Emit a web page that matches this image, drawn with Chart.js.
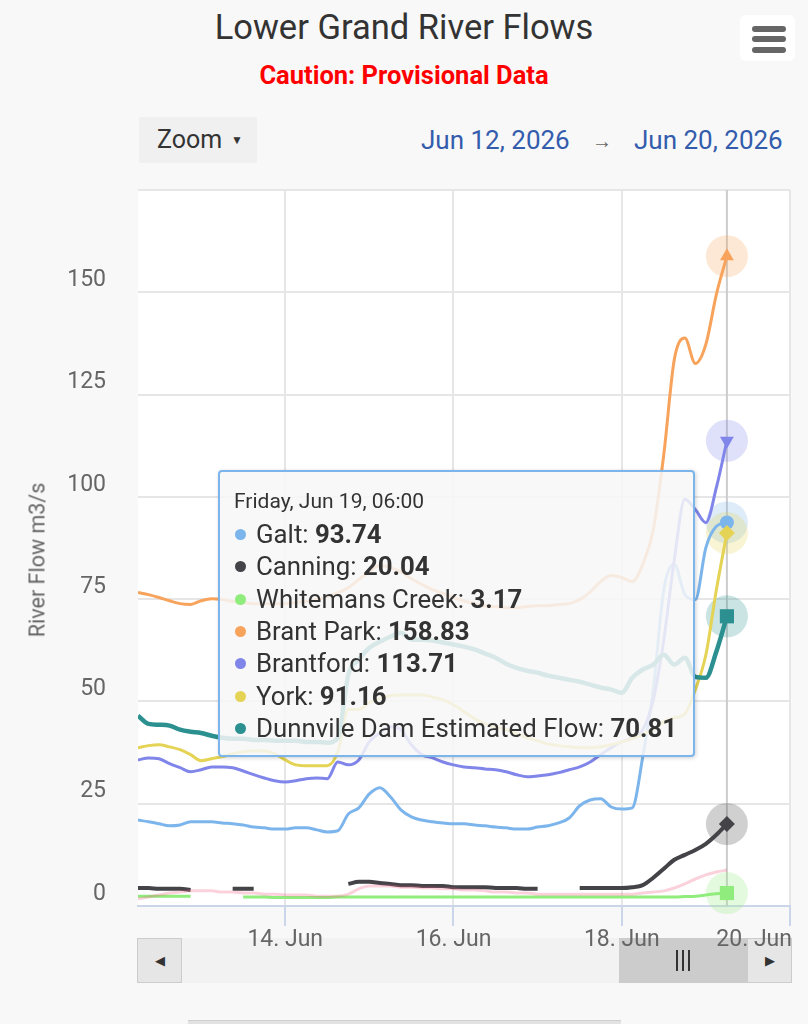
<!DOCTYPE html>
<html lang="en">
<head>
<meta charset="UTF-8">
<meta name="viewport" content="width=device-width, initial-scale=1.0">
<title>Lower Grand River Flows</title>
<style>
  body { margin: 0; background: #f8f8f8; font-family: Roboto, "Noto Sans", sans-serif; }
  #wrap { position: relative; width: 808px; height: 1024px; overflow: hidden; }
  #chart { position: absolute; left: 0; top: 0; z-index: 2; }
  .abs { position: absolute; white-space: nowrap; }
  .title { left: 0; width: 808px; text-align: center; top: 7px; line-height: 40px; font-size: 34.5px; color: #333; }
  .subtitle { left: 0; width: 808px; text-align: center; top: 60px; line-height: 30px; font-size: 25.5px; font-weight: bold; color: #ff0000; }
  .zoomBtn { left: 139px; top: 117px; width: 118px; height: 46px; background: #f0f0f0; border-radius: 2px; }
  .zoomBtn span { position: absolute; left: 18px; top: 0; line-height: 46px; font-size: 25px; color: #333; }
  .zoomBtn i { position: absolute; left: 92px; top: 0; line-height: 46px; font-size: 12px; font-style: normal; color: #333; }
  .date { top: 122px; line-height: 36px; font-size: 26px; color: #335cad; }
  .arrow { top: 123px; line-height: 36px; font-size: 20px; color: #666; left: 592px; }
  .menu { left: 740px; top: 15px; width: 55px; height: 46px; background: #fff; border-radius: 6px; }
  .menu b { position: absolute; left: 12px; width: 34px; height: 6px; border-radius: 3px; background: #666; }
  .ytitle { left: 37px; top: 560px; transform: translate(-50%, -50%) rotate(-90deg); font-size: 21.5px; color: #666; z-index: 3; }
  .track { left: 138px; top: 938px; width: 652px; height: 45px; background: #f2f2f2; z-index: 1; }
  .btn { top: 938px; width: 43px; height: 43px; background: #e6e6e6; border: 1px solid #cccccc; z-index: 1; text-align: center; line-height: 43px; font-size: 13px; color: #333; }
  .thumb { left: 619px; top: 938px; width: 128px; height: 45px; background: #cccccc; z-index: 1; }
  .thumb b { position: absolute; top: 12px; width: 2px; height: 21px; background: #333; }
  .navbar { left: 188px; top: 1020px; width: 433px; height: 4px; background: #e2e2e2; border-top: 1px solid #cfcfcf; }
  #tip { left: 218px; top: 470px; width: 473px; height: 283px; border: 2px solid #7cb5ec; border-radius: 4px;
         background: rgba(247,247,247,0.85); box-shadow: 1px 1px 4px rgba(0,0,0,0.18); z-index: 3; color: #333; }
  #tip .head { position: absolute; left: 14px; top: 15px; line-height: 28px; font-size: 21px; }
  #tip .row { position: absolute; left: 15px; line-height: 32px; font-size: 25.8px; }
  #tip .dot { display: inline-block; width: 11px; height: 11px; border-radius: 50%; margin-right: 10px; vertical-align: 3px; }
</style>
</head>
<body>
<div id="wrap">
  <div class="abs title">Lower Grand River Flows</div>
  <div class="abs subtitle">Caution: Provisional Data</div>
  <div class="abs zoomBtn"><span>Zoom</span><i>▼</i></div>
  <div class="abs date" style="left:421px">Jun 12, 2026</div>
  <div class="abs arrow">→</div>
  <div class="abs date" style="left:634px">Jun 20, 2026</div>
  <div class="abs menu"><b style="top:11px"></b><b style="top:21px"></b><b style="top:32px"></b></div>
  <div class="abs ytitle">River Flow m3/s</div>

  <div class="abs track"></div>
  <div class="abs btn" style="left:137px">◀</div>
  <div class="abs thumb"><b style="left:57px"></b><b style="left:63px"></b><b style="left:69px"></b></div>
  <div class="abs btn" style="left:747px">▶</div>
  <div class="abs navbar"></div>

  <canvas id="chart" width="808" height="1024"></canvas>
  <div class="abs" id="tip"></div>
</div>

<script src="https://cdn.jsdelivr.net/npm/chart.js"></script>
<script>
  // hours after Jun 12 00:00 (3-hourly readings)
  const hours = [6, 9, 12, 15, 18, 21, 24, 27, 30, 33, 36, 39, 42, 45, 48, 51, 54, 57, 60, 63,
    66, 69, 72, 75, 78, 81, 84, 87, 90, 93, 96, 99, 102, 105, 108, 111, 114, 117, 120, 123,
    126, 129, 132, 135, 138, 141, 144, 147, 150, 153, 156, 159, 162, 165, 168, 171, 174];

  const xTicks = [48, 96, 144, 192];
  const tooltipTime = 'Friday, Jun 19, 06:00';

  const galt = [21.0, 20.6, 20.1, 19.6, 19.8, 20.6, 20.6, 20.6, 20.3, 20.1, 19.8, 19.3, 19.1, 18.8, 18.8, 19.1, 19.1, 18.6, 18.1, 18.4,
    22.5, 24.0, 27.4, 28.9, 26.7, 23.5, 21.8, 21.0, 20.6, 20.3, 20.1, 20.1, 19.8, 19.6, 19.3, 19.1, 18.8, 18.8, 19.3, 19.6,
    20.3, 21.5, 24.5, 25.9, 26.2, 24.2, 23.7, 24.0, 36.5, 52.9, 77.3, 83.5, 76.1, 74.9, 87.6, 92.8, 93.74];

  const canning = [4.4, 4.4, 4.2, 4.2, 4.2, 3.9, null, null, null, 4.2, 4.2, 4.2, null, null, null, null, null, null, null, null,
    5.4, 5.9, 5.9, 5.6, 5.4, 5.1, 5.1, 4.9, 4.9, 4.9, 4.6, 4.6, 4.6, 4.6, 4.4, 4.4, 4.4, 4.2, 4.2, null,
    null, null, 4.4, 4.4, 4.4, 4.4, 4.4, 4.6, 5.1, 6.9, 9.1, 11.3, 12.5, 13.7, 15.2, 17.4, 20.04];

  const whitemans = [2.4, 2.4, 2.4, 2.4, 2.4, 2.4, null, null, null, null, 2.2, 2.2, 2.2, 2.1, 2.1, 2.1, 2.1, 2.1, 2.1, 2.2,
    2.2, 2.2, 2.2, 2.2, 2.2, 2.2, 2.2, 2.2, 2.2, 2.2, 2.2, 2.2, 2.2, 2.2, 2.2, 2.2, 2.2, 2.2, 2.2, 2.2,
    2.2, 2.2, 2.2, 2.2, 2.2, 2.2, 2.2, 2.2, 2.2, 2.2, 2.2, 2.2, 2.3, 2.4, 2.7, 3.0, 3.17];

  const brantPark = [76.6, 76.1, 75.4, 74.6, 73.9, 73.7, 74.6, 75.1, 74.9, 74.4, 74.2, 73.9, 73.9, 73.9, 73.9, 74.2, 74.4, 74.9, 75.6, 76.6,
    77.8, 79.8, 81.7, 83.2, 82.7, 81.7, 80.0, 78.6, 77.3, 76.4, 75.4, 74.6, 73.9, 73.4, 73.2, 72.9, 72.9, 73.2, 73.4, 73.4,
    73.7, 73.9, 74.9, 76.8, 79.3, 80.8, 80.3, 79.3, 83.5, 92.0, 110.4, 133.6, 138.8, 132.6, 137.3, 149.5, 158.83];

  const brantford = [35.7, 36.2, 36.0, 34.8, 33.8, 32.8, 33.3, 34.0, 34.0, 33.8, 33.0, 32.1, 31.3, 30.6, 30.3, 30.6, 31.1, 31.3, 31.1, 35.2,
    34.5, 35.7, 40.1, 42.3, 43.8, 43.1, 39.4, 37.0, 36.2, 35.2, 34.5, 34.0, 33.8, 33.5, 33.3, 32.8, 32.1, 31.6, 31.8, 32.1,
    32.6, 33.3, 34.0, 35.2, 37.0, 38.7, 40.1, 41.1, 43.1, 50.4, 65.1, 84.7, 99.4, 96.9, 93.7, 102.3, 113.71];

  const faintSeries = [1.7, 2.2, 2.7, 3.2, 3.4, 3.7, 3.7, 3.7, 3.4, 3.4, 3.2, 3.2, 2.9, 2.9, 2.7, 2.7, 2.7, 2.4, 2.4, 2.4,
    2.9, 4.2, 4.9, 4.9, 4.9, 4.6, 4.6, 4.4, 4.4, 4.2, 4.2, 3.9, 3.9, 3.7, 3.4, 3.4, 3.2, 3.2, 2.9, 2.9,
    2.9, 2.9, 2.9, 2.9, 2.9, 2.9, 2.9, 2.9, 3.2, 3.4, 3.7, 4.4, 5.4, 6.6, 7.6, 8.3, 8.8];

  const york = [38.7, 39.2, 39.4, 38.9, 38.2, 37.0, 35.5, 36.0, 36.5, 37.2, 37.7, 37.9, 37.9, 37.2, 35.7, 34.5, 34.3, 34.3, 34.3, 37.7,
    48.0, 48.0, 49.7, 50.7, 51.4, 51.6, 51.6, 51.6, 51.1, 50.4, 49.2, 47.5, 45.8, 44.5, 43.8, 43.1, 42.1, 41.1, 40.4, 39.6,
    39.2, 38.9, 38.7, 38.7, 38.9, 39.4, 40.1, 40.9, 41.9, 43.1, 45.0, 46.0, 47.0, 52.9, 61.4, 77.3, 91.16];

  const dunnville = [46.5, 44.5, 44.3, 44.1, 43.1, 42.6, 42.3, 41.6, 41.1, 40.9, 40.9, 40.6, 40.6, 40.4, 40.4, 40.4, 40.1, 40.1, 39.9, 41.1,
    56.5, 60.2, 63.1, 64.6, 65.8, 66.8, 65.1, 65.1, 64.9, 64.4, 63.9, 63.4, 62.7, 61.7, 60.7, 59.2, 58.2, 57.5, 57.0, 56.3,
    55.8, 55.3, 54.8, 54.1, 53.4, 52.9, 52.1, 55.8, 57.8, 59.0, 61.4, 59.0, 60.7, 56.0, 55.8, 62.2, 70.81];

  const series = [
    { name: 'Galt', data: galt, color: '#7cb5ec', marker: 'circle', width: 3 },
    { name: 'Canning', data: canning, color: '#434348', marker: 'rectRot', width: 4 },
    { name: 'Whitemans Creek', data: whitemans, color: '#90ed7d', marker: 'rect', width: 3 },
    { name: 'Brant Park', data: brantPark, color: '#f7a35c', marker: 'triangle', width: 3 },
    { name: 'Brantford', data: brantford, color: '#8085e9', marker: 'triangle', rot: 180, width: 3 },
    { name: '', data: faintSeries, color: 'rgba(241,92,128,0.28)', marker: null, width: 3 },
    { name: 'York', data: york, color: '#e4d354', marker: 'rectRot', width: 3 },
    { name: 'Dunnvile Dam Estimated Flow', data: dunnville, color: '#2b908f', marker: 'rect', width: 4.5 }
  ];

  const last = hours.length - 1;
  const markerSize = { circle: 7, rectRot: 8, rect: 10, triangle: 8 };

  const datasets = series.map((s, i) => ({
    label: s.name,
    data: hours.map((h, j) => ({ x: h, y: s.data[j] })),
    borderColor: s.color,
    backgroundColor: s.color,
    borderWidth: s.width,
    cubicInterpolationMode: 'monotone',
    spanGaps: false,
    order: series.length - i,
    pointStyle: s.marker || 'circle',
    pointRotation: s.rot || 0,
    pointBorderWidth: 0,
    pointBackgroundColor: s.color,
    pointRadius: ctx => (s.marker && ctx.dataIndex === last ? markerSize[s.marker] : 0)
  }));

  function withAlpha(hex, a) {
    const n = parseInt(hex.slice(1), 16);
    return `rgba(${(n >> 16) & 255},${(n >> 8) & 255},${n & 255},${a})`;
  }

  const extras = {
    id: 'extras',
    beforeDraw(chart) {
      const { ctx, chartArea: a } = chart;
      ctx.save();
      ctx.fillStyle = '#ffffff';
      ctx.fillRect(a.left, a.top, a.right - a.left, a.bottom - a.top);
      ctx.restore();
    },
    beforeDatasetsDraw(chart) {
      const { ctx, chartArea: a, scales } = chart;
      const cx = scales.x.getPixelForValue(hours[last]);
      ctx.save();
      ctx.strokeStyle = '#cccccc';
      ctx.lineWidth = 2;
      ctx.beginPath();
      ctx.moveTo(cx, a.top);
      ctx.lineTo(cx, a.bottom);
      ctx.stroke();
      series.forEach((s, i) => {
        if (!s.marker) return;
        const el = chart.getDatasetMeta(i).data[last];
        ctx.fillStyle = withAlpha(s.color, 0.25);
        ctx.beginPath();
        ctx.arc(el.x, el.y, 21, 0, Math.PI * 2);
        ctx.fill();
      });
      ctx.restore();
    },
    afterDraw(chart) {
      const { ctx, scales } = chart;
      ctx.save();
      ctx.font = '23px Roboto, sans-serif';
      ctx.fillStyle = '#666666';
      ctx.textBaseline = 'middle';
      ctx.textAlign = 'center';
      xTicks.forEach(h => {
        const txt = (12 + h / 24) + '. Jun';
        const w = ctx.measureText(txt).width;
        let x = scales.x.getPixelForValue(h);
        if (x + w / 2 > 792) x = 792 - w / 2;
        ctx.fillText(txt, x, 940);
      });
      ctx.restore();
    }
  };

  new Chart(document.getElementById('chart'), {
    type: 'line',
    data: { datasets },
    options: {
      responsive: false,
      animation: false,
      events: [],
      layout: { padding: { left: 0, right: 18, top: 190, bottom: 0 } },
      plugins: { legend: { display: false }, tooltip: { enabled: false } },
      scales: {
        x: {
          type: 'linear',
          min: 6,
          max: 192,
          afterBuildTicks: scale => { scale.ticks = xTicks.map(v => ({ value: v })); },
          afterFit: scale => { scale.height = 118; },
          ticks: { display: false },
          grid: { color: '#e6e6e6', lineWidth: 2, drawTicks: true, tickLength: 20, tickColor: '#ccd6eb', tickWidth: 2 },
          border: { display: true, color: '#ccd6eb', width: 2 }
        },
        y: {
          min: 0,
          max: 175,
          afterFit: scale => { scale.width = 138; },
          ticks: {
            stepSize: 25,
            padding: 32,
            labelOffset: -12,
            color: '#666666',
            font: { family: 'Roboto', size: 23 },
            callback: v => (v === 175 ? '' : v)
          },
          grid: { color: '#e6e6e6', lineWidth: 2, drawTicks: false },
          border: { display: false }
        }
      }
    },
    plugins: [extras]
  });

  // tooltip box for the hovered reading
  const tip = document.getElementById('tip');
  let html = `<div class="head">${tooltipTime}</div>`;
  let row = 0;
  series.forEach(s => {
    if (!s.name) return;
    html += `<div class="row" style="top:${46 + row * 32.3}px"><span class="dot" style="background:${s.color}"></span>${s.name}: <b>${s.data[last].toFixed(2)}</b></div>`;
    row++;
  });
  tip.innerHTML = html;
</script>
</body>
</html>
